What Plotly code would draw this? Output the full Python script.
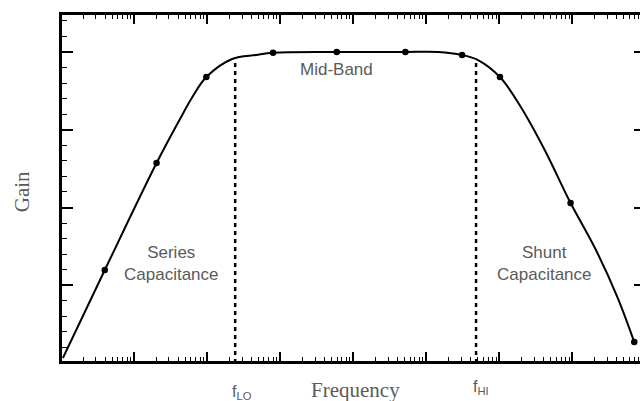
import math
import plotly.graph_objects as go

# Gain curve (frequency in arbitrary units, log axis)
curve_freq = [1.06, 3.97, 20.3, 41.8, 62.8, 97.5, 220, 468, 798, 5943, 51760,
              145600, 309000, 510500, 1.019e6, 1.968e6, 4.178e6, 9.44e6, 2.004e7,
              4.13e7, 7.03e7]
curve_gain = [0.064, 1.196, 2.572, 3.125, 3.421, 3.678, 3.910, 3.961, 3.99, 4.0, 4.0,
              4.0, 3.961, 3.897, 3.678, 3.293, 2.740, 2.058, 1.492, 0.849, 0.270]

marker_freq = [3.97, 20.3, 97.5, 798, 5943, 51760, 309000, 1.019e6, 9.44e6, 7.03e7]
marker_gain = [1.196, 2.572, 3.678, 3.99, 4.0, 4.0, 3.961, 3.678, 2.058, 0.270]

f_lo = 242
f_hi = 480000
f_lo_top = 3.88
f_hi_top = 3.90

region_labels = ["Mid-Band", "Series<br>Capacitance", "Shunt<br>Capacitance"]
region_freq = [5943, 32.5, 4.18e6]
region_gain = [3.77, 1.286, 1.286]

fig = go.Figure()
fig.add_trace(go.Scatter(x=curve_freq, y=curve_gain, mode="lines",
                         line=dict(color="black", width=2, shape="spline", smoothing=1.0),
                         hoverinfo="skip", showlegend=False))
fig.add_trace(go.Scatter(x=marker_freq, y=marker_gain, mode="markers",
                         marker=dict(color="black", size=6.5),
                         showlegend=False))
for f, top in [(f_lo, f_lo_top), (f_hi, f_hi_top)]:
    fig.add_trace(go.Scatter(x=[f, f], y=[0, top], mode="lines",
                             line=dict(color="black", width=2.5, dash="4px,4px"),
                             showlegend=False))

sans = "Liberation Sans, Arial, sans-serif"
serif = "Liberation Serif, Times New Roman, serif"
gray = "#5a5a5a"

# plot area in window pixels: x 62..648 (runs past the 640 window), y 15..361
def py_paper(py):
    return (361.0 - py) / 346.0

def px_paper(px):
    return (px - 62.0) / 586.0

for t, x, y in zip(region_labels, region_freq, region_gain):
    fig.add_annotation(x=math.log10(x), y=y, xref="x", yref="y", text=t, showarrow=False,
                       font=dict(family=sans, size=17, color=gray), align="center",
                       xanchor="center", yanchor="middle")

fig.add_annotation(x=math.log10(f_lo), y=py_paper(392), xref="x", yref="paper",
                   text="f<sub>LO</sub>", showarrow=False, xanchor="left", yanchor="middle",
                   xshift=-5, font=dict(family=sans, size=16, color=gray))
fig.add_annotation(x=math.log10(f_hi), y=py_paper(387), xref="x", yref="paper",
                   text="f<sub>HI</sub>", showarrow=False, xanchor="left", yanchor="middle",
                   xshift=-5, font=dict(family=sans, size=16, color=gray))
fig.add_annotation(x=px_paper(357), y=py_paper(390), xref="paper", yref="paper",
                   text="Frequency", showarrow=False, xanchor="center", yanchor="middle",
                   font=dict(family=serif, size=21, color=gray))
fig.add_annotation(x=px_paper(22), y=py_paper(192), xref="paper", yref="paper",
                   text="Gain", textangle=-90, showarrow=False, xanchor="center",
                   yanchor="middle", font=dict(family=serif, size=21, color=gray))

fig.update_xaxes(type="log", range=[0.013, 7.994], showline=True, linewidth=3,
                 linecolor="black", mirror="ticks", ticks="inside", ticklen=9,
                 tickwidth=1.5, tickcolor="black", dtick=1, showticklabels=False,
                 showgrid=False, zeroline=False,
                 minor=dict(ticks="inside", ticklen=4, tickcolor="black", tickwidth=1, showgrid=False))
fig.update_yaxes(range=[0.026, 4.476], showline=True, linewidth=3, linecolor="black",
                 mirror="ticks", ticks="inside", ticklen=11, tickwidth=1.5,
                 tickcolor="black", dtick=1, showticklabels=False, showgrid=False,
                 zeroline=False,
                 minor=dict(ticks="inside", ticklen=5, dtick=0.2, tickcolor="black",
                            tickwidth=1, showgrid=False))

# figure is 8px wider than the window so the plot runs past its right edge
fig.update_layout(width=648, height=401, margin=dict(l=62, r=0, t=15, b=40),
                  plot_bgcolor="white", paper_bgcolor="white", showlegend=False)

fig.write_html("out.html", config={"displayModeBar": False},
               post_script="document.body.style.margin='0';document.body.style.overflow='hidden';")
